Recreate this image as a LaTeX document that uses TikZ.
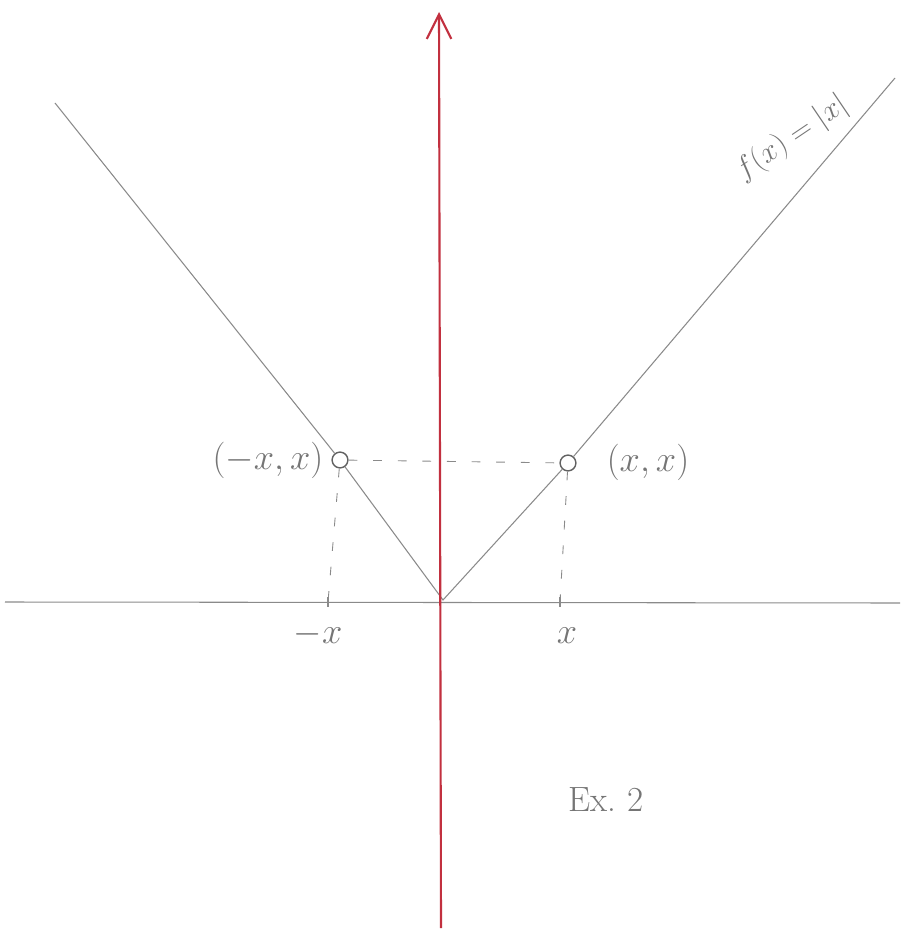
\documentclass[tikz,border=0pt]{standalone}
\usetikzlibrary{arrows.meta}
\definecolor{pencilgray}{HTML}{8A8A8A}
\definecolor{axisred}{HTML}{C2303F}
\tikzset{
  pencil/.style={draw=pencilgray, line width=0.6pt},
  guide/.style={draw=pencilgray, line width=0.5pt, dash pattern=on 5pt off 9pt},
  dot/.style={circle, draw=pencilgray!70!black, line width=0.8pt, inner sep=0pt, minimum size=9pt},
  hand/.style={text=pencilgray!85!black}
}
\begin{document}
\begin{tikzpicture}[x=0.02cm,y=-0.02cm]
\useasboundingbox (0,0) rectangle (904,932);
\coordinate (O) at (443,600);
\coordinate (xl) at (5,602);
\coordinate (xr) at (900,603);
\coordinate (yb) at (441,928);
\coordinate (yt) at (439,12);
\coordinate (lt) at (55,103);
\coordinate (rt) at (895,78);
\coordinate (tl) at (328,602);
\coordinate (tr) at (560,602);
\node[dot] (P) at (340,460) {};
\node[dot] (Q) at (568,463) {};
\draw[pencil] (xl) -- (xr);
\draw[pencil] (lt) -- (P) -- (O) -- (Q) -- (rt);
\draw[guide] (P) -- (Q);
\draw[guide] (P) -- (tl);
\draw[guide] (Q) -- (tr);
\draw[pencil, line width=1pt] (328,597) -- (328,607);
\draw[pencil, line width=1pt] (560,597) -- (560,607);
\draw[axisred, line width=1.2pt, -{Straight Barb[length=14pt, width=14pt]}] (yb) -- (yt);
\node[hand, font=\fontsize{22}{26}\selectfont] (lblP) at (268,460) {$(-x,x)$};
\node[hand, font=\fontsize{22}{26}\selectfont] (lblQ) at (648,462) {$(x,x)$};
\node[hand, font=\fontsize{22}{26}\selectfont] (lblnx) at (318,634) {$-x$};
\node[hand, font=\fontsize{22}{26}\selectfont] (lblx) at (567,636) {$x$};
\node[hand, font=\fontsize{18}{22}\selectfont, rotate=34] (lblf) at (792,138) {$f(x)=|x|$};
\node[hand, font=\fontsize{20}{24}\selectfont] (ex) at (606,800) {Ex.\ 2};
\end{tikzpicture}
\end{document}
